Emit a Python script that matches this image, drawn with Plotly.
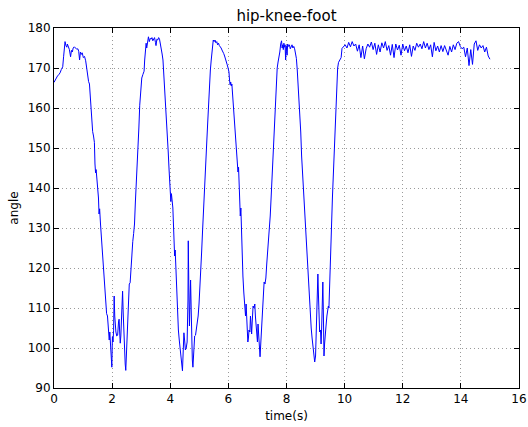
import plotly.graph_objects as go

time_main = [
    0.00,0.04,0.08,0.12,0.16,0.21,0.25,0.30,0.33,0.36,
    0.38,0.41,0.44,0.46,0.49,0.53,0.57,0.60,0.63,0.66,
    0.70,0.74,0.78,0.82,0.85,0.88,0.91,0.94,0.97,1.01,
    1.05,1.09,1.12,1.15,1.19,1.22,1.25,1.28,1.31,1.33,
    1.36,1.39,1.41,1.43,1.45,1.47,1.50,1.53,1.55,1.57,
    1.60,1.63,1.66,1.69,1.72,1.75,1.78,1.81,1.84,1.87,
    1.90,1.92,1.94,1.96,1.98,1.99,2.01,2.03,2.05,2.07,
    2.09,2.11,2.13,2.16,2.19,2.22,2.24,2.26,2.28,2.30,
    2.33,2.36,2.38,2.40,2.42,2.45,2.47,2.50,2.53,2.56,
    2.59,2.62,2.65,2.68,2.71,2.74,2.77,2.80,2.83,2.86,
    2.89,2.92,2.95,2.98,3.02,3.06,3.10,3.12,3.15,3.17,
    3.19,3.22,3.25,3.28,3.31,3.34,3.37,3.40,3.43,3.46,
    3.49,3.51,3.54,3.57,3.60,3.63,3.66,3.69,3.72,3.75,
    3.78,3.80,3.82,3.85,3.88,3.91,3.93,3.96,3.99,4.02,
    4.04,4.06,4.09,4.11,4.13,4.15,4.17,4.19,4.21,4.23,
    4.25,4.28,4.31,4.34,4.37,4.40,4.42,4.45,4.47,4.50,
    4.52,4.55,4.58,4.61,4.62,4.64,4.66,4.68,4.70,4.72,
    4.74,4.76,4.78,4.81,4.84,4.87,4.90,4.93,4.96,4.99,
    5.02,5.05,5.08,5.11,5.14,5.17,5.20,5.23,5.26,5.29,
    5.32,5.35,5.38,5.41,5.44,5.46,5.48,5.51,5.54,5.57,
    5.60,5.63,5.66,5.69,5.72,5.75,5.78,5.81,5.84,5.87,
    5.90,5.93,5.96,5.99,6.02,6.04,6.06,6.08,6.10,6.12,
    6.14,6.17,6.19,6.22,6.25,6.27,6.29,6.31,6.33,6.35,
    6.37,6.39,6.41,6.43,6.45,6.47,6.50,6.53,6.56,6.59,
    6.61,6.63,6.65,6.67,6.69,6.71,6.74,6.76,6.78,6.80,
    6.82,6.85,6.88,6.91,6.93,6.95,6.97,7.00,7.02,7.04,
    7.06,7.09,7.11,7.13,7.15,7.17,7.20,7.23,7.26,7.29,
    7.32,7.35,7.38,7.41,7.44,7.47,7.50,7.53,7.56,7.59,
    7.62,7.65,7.68,7.71,7.74,7.77,7.80,7.83,7.85,7.87,
    7.89,7.91,7.93,7.95,7.97,7.99,8.02,8.04,8.07,8.10,
    8.13,8.16,8.19,8.22,8.25,8.28,8.31,8.34,8.37,8.40,
    8.43,8.46,8.49,8.52,8.55,8.58,8.61,8.64,8.67,8.70,
    8.73,8.76,8.79,8.82,8.85,8.88,8.91,8.94,8.97,9.00,
    9.02,9.04,9.06,9.08,9.10,9.12,9.14,9.17,9.19,9.21,
    9.23,9.25,9.27,9.29,9.31,9.33,9.36,9.39,9.42,9.44,
    9.46,9.49,9.52,9.55,9.58,9.61,9.64,9.67,9.70,9.73,
    9.76,9.79,9.82,9.85,9.88,9.91,
]
angle_main = [
    166.4,167.0,167.6,168.0,168.3,168.8,169.6,170.3,172.8,175.0,
    176.6,175.6,175.2,176.0,175.4,174.6,172.8,174.4,174.0,175.0,
    175.3,175.0,174.7,174.8,174.2,172.0,174.0,173.4,173.8,172.6,
    172.9,171.8,170.3,168.0,166.6,166.0,162.5,160.0,156.0,154.1,
    153.0,151.4,146.0,143.8,144.6,142.8,141.0,137.5,133.5,134.8,
    131.0,128.0,123.5,119.5,117.2,114.5,111.0,108.6,108.0,105.0,
    102.0,104.0,101.5,99.5,97.0,95.2,102.8,101.5,104.3,113.0,
    108.0,104.5,104.0,103.0,103.2,106.5,107.2,104.0,101.2,103.0,
    108.0,114.2,109.0,104.0,100.5,96.0,94.4,100.0,105.0,110.0,
    116.0,116.3,121.0,124.5,126.6,128.6,131.0,136.5,140.5,147.0,
    150.0,155.0,160.7,165.0,167.5,168.4,169.2,172.0,174.9,176.2,
    175.0,177.0,177.8,176.6,177.4,177.2,177.6,176.8,177.3,177.6,
    176.4,175.6,177.2,177.0,177.6,177.2,176.0,175.0,173.5,172.0,
    168.5,166.5,163.5,160.0,157.0,152.0,149.0,144.5,141.0,136.6,
    138.6,137.0,135.0,131.0,126.0,123.0,124.5,121.0,115.0,110.0,
    107.0,104.5,102.0,100.0,98.5,96.0,94.3,100.0,103.8,101.5,
    99.5,100.0,101.5,112.0,126.8,115.0,105.5,111.0,117.0,110.0,
    101.0,97.0,95.2,100.5,103.0,103.2,104.5,106.0,108.0,111.0,
    114.5,118.0,124.0,129.0,133.0,138.0,143.0,147.4,152.0,156.5,
    162.0,166.5,169.5,172.0,174.0,176.0,177.0,176.6,177.0,176.3,
    176.6,175.8,176.2,175.6,175.4,175.0,174.5,174.2,173.6,173.0,
    172.4,171.5,170.8,170.0,169.0,167.0,165.8,166.5,165.5,166.0,
    164.0,161.0,159.0,156.0,153.0,150.0,147.0,145.0,144.0,145.2,
    140.0,134.0,133.0,135.0,128.0,124.0,118.0,114.0,109.5,108.0,
    111.0,106.0,103.0,101.5,102.5,104.5,104.0,108.0,106.0,103.5,
    106.5,110.5,110.0,111.0,108.0,106.5,104.0,101.5,106.0,103.0,
    100.0,97.8,100.5,103.0,104.0,108.0,113.0,116.5,116.0,117.5,
    121.0,123.5,126.0,129.0,133.0,137.5,142.0,146.5,152.0,157.0,
    162.0,166.0,170.0,171.5,172.6,174.0,176.0,176.8,175.0,175.8,
    174.6,176.2,175.2,175.8,172.0,175.6,173.2,176.0,175.4,175.8,
    174.8,175.6,175.8,175.0,175.4,174.8,173.5,172.4,169.5,166.0,
    162.0,158.0,154.0,148.0,144.0,140.6,136.0,132.5,128.5,124.0,
    120.0,115.5,111.0,107.5,105.0,102.5,100.0,98.0,96.5,98.0,
    104.5,106.0,110.0,118.5,113.0,105.0,104.0,104.5,101.0,105.0,
    112.0,116.5,108.0,98.0,101.0,104.0,105.5,108.0,109.5,110.5,
    110.0,118.0,126.5,131.5,137.5,143.0,149.0,154.5,160.0,166.0,
    170.0,171.4,171.8,172.0,172.6,174.9,
]
time_flat = [
    9.96,10.02,10.08,10.14,10.20,10.26,10.32,10.38,10.44,10.50,
    10.56,10.62,10.68,10.74,10.80,10.86,10.92,10.98,11.04,11.10,
    11.16,11.22,11.28,11.34,11.40,11.46,11.52,11.58,11.64,11.70,
    11.76,11.82,11.88,11.94,12.00,12.06,12.12,12.18,12.24,12.30,
    12.36,12.42,12.48,12.54,12.60,12.66,12.72,12.78,12.84,12.90,
    12.96,13.02,13.08,13.14,13.20,13.26,13.32,13.38,13.44,13.50,
    13.56,13.62,13.68,13.74,13.80,13.86,13.92,13.98,14.04,14.10,
    14.16,14.22,14.28,14.34,14.40,14.46,14.52,14.58,14.64,14.70,
    14.76,14.82,14.88,14.94,15.00,
]
angle_flat = [
    175.2,175.8,175.0,176.4,175.3,176.6,175.5,176.0,174.2,175.8,
    172.6,175.5,172.3,174.8,176.0,175.2,176.5,174.6,176.2,173.4,
    175.8,174.0,176.3,175.0,176.6,174.4,175.6,173.2,175.9,172.6,
    176.0,174.5,175.7,173.2,176.0,174.3,175.5,173.8,175.8,172.9,
    175.5,174.4,176.2,175.2,176.0,174.8,176.6,175.0,176.2,174.6,
    175.8,172.8,176.4,174.3,175.5,174.0,175.6,174.1,175.6,174.5,
    173.2,175.4,174.0,175.8,174.6,176.2,176.6,175.4,174.8,175.2,
    172.8,175.0,170.6,174.6,170.9,176.0,176.8,174.4,175.8,175.0,
    175.6,174.0,175.2,173.0,172.2,
]
x_ticks = [0, 2, 4, 6, 8, 10, 12, 14, 16]
y_ticks = [90, 100, 110, 120, 130, 140, 150, 160, 170, 180]

t = time_main + time_flat
a = angle_main + angle_flat

fig = go.Figure(go.Scatter(x=t, y=a, mode="lines",
                           line=dict(color="#0000ff", width=1)))

axis_common = dict(showline=True, linecolor="black", linewidth=1, mirror="ticks",
                   ticks="inside", ticklen=5, tickcolor="black", tickwidth=1,
                   showgrid=True, gridcolor="#9a9a9a", griddash="1px,3px", gridwidth=1,
                   zeroline=False, tickfont=dict(size=12, color="black"),
                   title_font=dict(size=12, color="black"), automargin=False)

fig.update_xaxes(range=[0, 16], tickvals=x_ticks, title_text="time(s)",
                 title_standoff=6, **axis_common)
fig.update_yaxes(range=[90, 180], tickvals=y_ticks, title_text="angle",
                 title_standoff=6, **axis_common)

fig.update_layout(
    width=528, height=427,
    margin=dict(l=54, r=9, t=28, b=39),
    paper_bgcolor="white", plot_bgcolor="white",
    font=dict(family="DejaVu Sans", color="black"),
    title=dict(text="hip-knee-foot", x=0.5, xref="paper", xanchor="center",
               y=1 - 16 / 427, yref="container", yanchor="middle",
               font=dict(size=15, color="black")),
    showlegend=False,
)

fig.write_html("out.html")
